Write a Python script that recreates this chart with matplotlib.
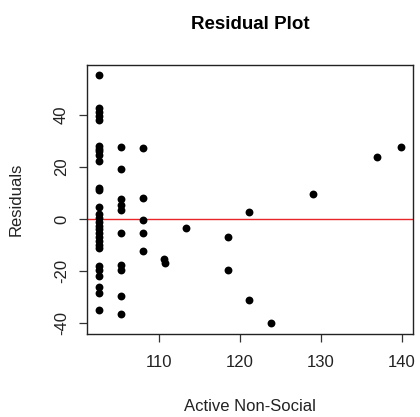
import matplotlib
matplotlib.use("Agg")
import matplotlib.pyplot as plt

plt.rcParams["font.family"] = ["Liberation Sans", "DejaVu Sans"]

# -----------------------------
# Data
# -----------------------------
col1_x = 102.6
col1_res = [55.5, 42.5, 41.0, 39.5, 38.0, 28.0, 27.0, 26.0, 24.5, 22.5,
            12.0, 11.0, 4.5, 2.0, 0.5, -1.0, -2.5, -4.0, -5.5, -7.0,
            -8.5, -10.0, -11.0, -18.0, -19.5, -22.0, -26.0, -28.5, -35.0]

col2_x = 105.3
col2_res = [27.7, 19.2, 7.7, 5.5, 3.5, -5.4, -17.7, -19.6, -29.6, -36.5]

col3_x = 108.0
col3_res = [27.3, 8.0, -0.2, -5.2, -12.3]

other_x = [110.6, 110.7, 113.3, 118.6, 118.6, 121.2, 121.2, 123.9, 129.1, 137.0, 139.9]
other_res = [-15.5, -16.8, -3.5, -7.0, -19.6, 2.7, -31.0, -40.0, 9.6, 24.0, 27.7]

x_ticks = [110, 120, 130, 140]
y_ticks = [-40, -20, 0, 20, 40]

x = [col1_x] * len(col1_res) + [col2_x] * len(col2_res) + [col3_x] * len(col3_res) + other_x
y = col1_res + col2_res + col3_res + other_res

# -----------------------------
# Plot
# -----------------------------
fig = plt.figure(figsize=(4.2, 4.17), dpi=100)
ax = fig.add_axes([0.207, 0.199, 0.776, 0.645])

ax.scatter(x, y, s=32, color="black", zorder=3, linewidths=0)
ax.axhline(0, color="#e8262a", linewidth=1, zorder=2)

ax.set_xlim(101.1, 141.4)
ax.set_ylim(-44.2, 59.2)
ax.set_xticks(x_ticks)
ax.set_yticks(y_ticks)
ax.set_yticklabels([str(v) for v in y_ticks], rotation=90, va="center")

ax.tick_params(direction="out", length=6, width=0.9, labelsize=12, pad=9,
               color="#333333", labelcolor="#222222")
ax.tick_params(axis="y", pad=7)
for s in ax.spines.values():
    s.set_linewidth(1.0)
    s.set_color("#222222")

ax.set_title("Residual Plot", fontsize=13.5, fontweight="bold", pad=26)
ax.set_xlabel("Active Non-Social", fontsize=12, labelpad=21, color="#222222")
ax.set_ylabel("Residuals", fontsize=12, labelpad=22, color="#222222")

fig.savefig("out.png", dpi=100)
